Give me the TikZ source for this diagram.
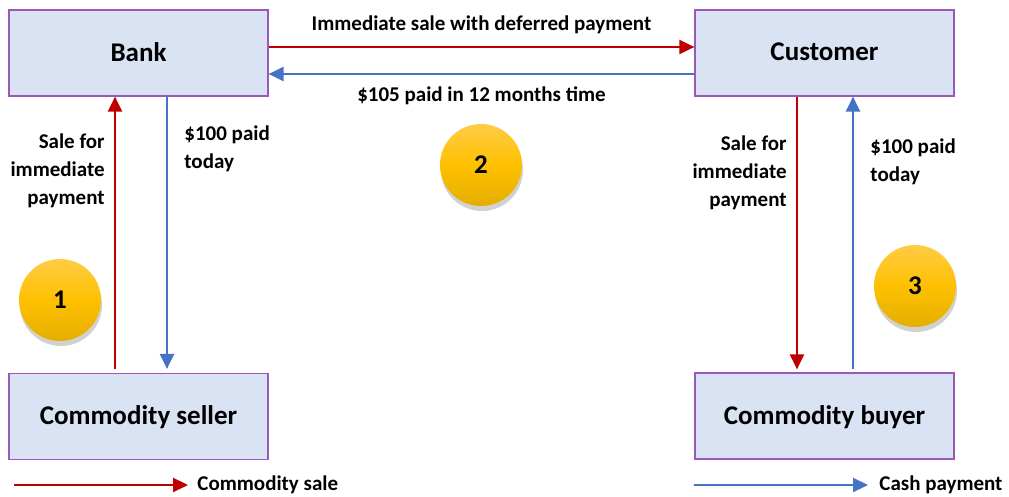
\documentclass[tikz,border=0pt]{standalone}
\usepackage{fontspec}
\setmainfont{Carlito}
\usepackage{tikz}
\usetikzlibrary{arrows.meta,shadows,positioning}
\definecolor{boxfill}{RGB}{218,227,243}
\definecolor{boxline}{RGB}{155,89,182}
\definecolor{salered}{RGB}{192,0,0}
\definecolor{cashblue}{RGB}{68,114,196}
\definecolor{goldtop}{RGB}{255,204,70}
\definecolor{goldmid}{RGB}{255,192,0}
\definecolor{goldbot}{RGB}{228,174,0}
\tikzset{
partybox/.style={rectangle, draw=boxline, fill=boxfill, line width=0.6pt, inner sep=0pt, minimum width=129.5pt, minimum height=43pt, text depth=1pt, font=\fontsize{13.5}{16}\selectfont\bfseries},
stepcircle/.style={circle, top color=goldtop, bottom color=goldbot, middle color=goldmid, inner sep=0pt, minimum size=41pt, font=\fontsize{13.5}{16}\selectfont\bfseries, drop shadow={shadow xshift=0.5pt, shadow yshift=-2.5pt, opacity=0.18, fill=black}},
flowtext/.style={inner sep=0pt, font=\fontsize{10.5}{14}\selectfont\bfseries},
salearrow/.style={draw=salered, line width=1.1pt, -{Triangle[length=7.5pt,width=7pt]}},
casharrow/.style={draw=cashblue, line width=1.1pt, -{Triangle[length=7.5pt,width=7pt]}},
}
\begin{document}
\begin{tikzpicture}[x=0.5pt,y=-0.5pt]
        \useasboundingbox (0,0) rectangle (1009,497);
        \node[partybox] at (138.5,53) (bank) {Bank};
        \node[partybox] at (824.5,53) (customer) {Customer};
        \node[partybox] at (138.5,416.5) (seller) {Commodity seller};
        \node[partybox] at (824.5,416) (buyer) {Commodity buyer};
        % steps
        \node[stepcircle] at (60,300) (one) {1};
        \node[stepcircle] at (481,165) (two) {2};
        \node[stepcircle] at (915,286) (three) {3};
        % bank and customer
        \draw[salearrow] ([yshift=3pt]bank.east) to node[flowtext, above=6pt]{Immediate sale with deferred payment} ([yshift=3pt]customer.west);
        \draw[casharrow] ([yshift=-10.5pt]customer.west) to node[flowtext, below=6pt]{\$105 paid in 12 months time} ([yshift=-10.5pt]bank.west -| bank.east);
        % bank and seller
        \draw[salearrow, shorten <=2pt] ([xshift=-11.75pt]seller.north) to ([xshift=-11.75pt]bank.south);
        \draw[casharrow, shorten >=2pt] ([xshift=14.25pt]bank.south) to ([xshift=14.25pt]seller.north);
        \node[flowtext, align=right, anchor=east] at (105,171) (sellersale) {Sale for\\immediate\\payment};
        \node[flowtext, align=left, anchor=west] at (184,148.5) (sellercash) {\$100 paid\\today};
        % customer and buyer
        \draw[salearrow, shorten >=1.5pt] ([xshift=-13.75pt]customer.south) to ([xshift=-13.75pt]buyer.north);
        \draw[casharrow, shorten <=1.5pt] ([xshift=14.25pt]buyer.north) to ([xshift=14.25pt]customer.south);
        \node[flowtext, align=right, anchor=east] at (787,173) (buyersale) {Sale for\\immediate\\payment};
        \node[flowtext, align=left, anchor=west] at (870,161.5) (buyercash) {\$100 paid\\today};
        % key
        \coordinate (salekeyend) at (14,485);
        \node[flowtext, anchor=west] at (197,485) (salekey) {Commodity sale};
        \draw[salearrow] (salekeyend) to ([xshift=-4.5pt]salekey.west);
        \coordinate (cashkeyend) at (694,485);
        \node[flowtext, anchor=west] at (879,485) (cashkey) {Cash payment};
        \draw[casharrow] (cashkeyend) to ([xshift=-5.5pt]cashkey.west);
    \end{tikzpicture}
\end{document}
